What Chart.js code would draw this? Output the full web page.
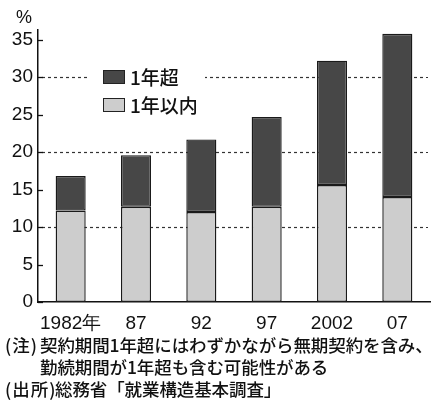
<!DOCTYPE html>
<html>
<head>
<meta charset="utf-8">
<script src="https://cdn.jsdelivr.net/npm/chart.js@4.4.1/dist/chart.umd.min.js"></script>
<style>
  body { margin: 0; background: #fff; }
  #wrap { position: relative; width: 440px; height: 405px; }
  #notes {
    position: absolute; left: 5px; top: 334px; width: 435px;
    font-family: "Noto Sans CJK JP", sans-serif; font-size: 17.5px; font-weight: 500;
    line-height: 22px; color: #111; white-space: nowrap; letter-spacing: -0.1px;
  }
  .lab { display: inline-block; width: 35px; letter-spacing: 1px; }
  .lab2 { display: inline-block; width: 50px; letter-spacing: 1px; }
  .indent { padding-left: 35px; }
</style>
</head>
<body>
<div id="wrap">
  <canvas id="chart" width="440" height="405"></canvas>
  <div id="notes">
    <div><span class="lab">(注)</span>契約期間1年超にはわずかながら無期契約を含み、</div>
    <div class="indent">勤続期間が1年超も含む可能性がある</div>
    <div><span class="lab2">(出所)</span>総務省「就業構造基本調査」</div>
  </div>
</div>
<script>
const categories = ['1982年', '87', '92', '97', '2002', '07'];
const withinOneYear = [12.2, 12.7, 12.0, 12.7, 15.6, 14.0];   // 1年以内
const overOneYear = [4.6, 6.9, 9.7, 12.0, 16.6, 21.8];        // 1年超
const yTicks = [0, 5, 10, 15, 20, 25, 30, 35];
const gridValues = [10, 20, 30];

const numFont = '"Liberation Sans", Arial, sans-serif';
const cjkFont = '"Noto Sans CJK JP", sans-serif';

// dotted grid, inner ticks, % unit and the legend drawn inside the plot
const decorations = {
    id: 'decorations',
    beforeDatasetsDraw(chart) {
        const { ctx, chartArea, scales: { y } } = chart;
        ctx.save();
        ctx.strokeStyle = '#333';
        ctx.lineWidth = 1.2;
        ctx.setLineDash([3, 3]);
        gridValues.forEach(v => {
            const py = Math.round(y.getPixelForValue(v)) + 0.5;
            ctx.beginPath();
            ctx.moveTo(chartArea.left + 4, py);
            ctx.lineTo(chartArea.right - 2, py);
            ctx.stroke();
        });
        ctx.setLineDash([]);
        ctx.strokeStyle = '#111';
        ctx.lineWidth = 1.3;
        y.ticks.forEach(t => {
            const py = Math.round(y.getPixelForValue(t.value)) + 0.5;
            ctx.beginPath();
            ctx.moveTo(chartArea.left, py);
            ctx.lineTo(chartArea.left + 5, py);
            ctx.stroke();
        });
        ctx.restore();
    },
    afterDatasetsDraw(chart) {
        const { ctx } = chart;
        ctx.save();
        ctx.fillStyle = '#111';
        ctx.font = '18px ' + numFont;
        ctx.textAlign = 'center';
        ctx.textBaseline = 'middle';
        ctx.fillText('%', 24, 18);

        // legend, with white ground that breaks the 30 gridline
        ctx.fillStyle = '#fff';
        ctx.fillRect(90, 62, 115, 58);
        const items = [chart.data.datasets[1], chart.data.datasets[0]];
        items.forEach((ds, i) => {
            const top = 70 + i * 28;
            ctx.fillStyle = ds.backgroundColor;
            ctx.fillRect(103, top, 22, 14);
            ctx.strokeStyle = '#222';
            ctx.lineWidth = 1;
            ctx.strokeRect(103.5, top + 0.5, 21, 13);
            ctx.fillStyle = '#111';
            ctx.font = '500 19px ' + cjkFont;
            ctx.textAlign = 'left';
            ctx.textBaseline = 'middle';
            ctx.fillText(ds.label, 130, top + 8);
        });
        ctx.restore();
    }
};

new Chart(document.getElementById('chart'), {
    type: 'bar',
    data: {
        labels: categories,
        datasets: [
            {
                label: '1年以内',
                data: withinOneYear,
                backgroundColor: '#cdcdcd',
                borderColor: '#1a1a1a',
                borderWidth: 1.4,
                borderSkipped: false
            },
            {
                label: '1年超',
                data: overOneYear,
                backgroundColor: '#474747',
                borderColor: '#1a1a1a',
                borderWidth: 1.4,
                borderSkipped: false
            }
        ]
    },
    options: {
        responsive: false,
        animation: false,
        devicePixelRatio: 1,
        layout: { padding: { left: 0, right: 10, top: 30, bottom: 0 } },
        datasets: { bar: { barPercentage: 0.46, categoryPercentage: 1 } },
        scales: {
            x: {
                stacked: true,
                grid: { display: false },
                border: { display: true, color: '#111', width: 1.5 },
                ticks: {
                    color: '#111',
                    font: { family: numFont, size: 19 },
                    padding: 2,
                    autoSkip: false,
                    maxRotation: 0
                },
                afterFit: scale => { scale.height = 103; }
            },
            y: {
                stacked: true,
                min: 0,
                max: 36.3,
                grid: { display: false, drawTicks: false },
                border: { display: true, color: '#111', width: 1.5 },
                ticks: {
                    color: '#111',
                    font: { family: numFont, size: 19 },
                    padding: 5,
                    autoSkip: false
                },
                afterBuildTicks: scale => {
                    scale.ticks = yTicks.map(v => ({ value: v }));
                },
                afterFit: scale => { scale.width = 38; }
            }
        },
        plugins: {
            legend: { display: false },
            tooltip: { enabled: false }
        }
    },
    plugins: [decorations]
});
</script>
</body>
</html>
